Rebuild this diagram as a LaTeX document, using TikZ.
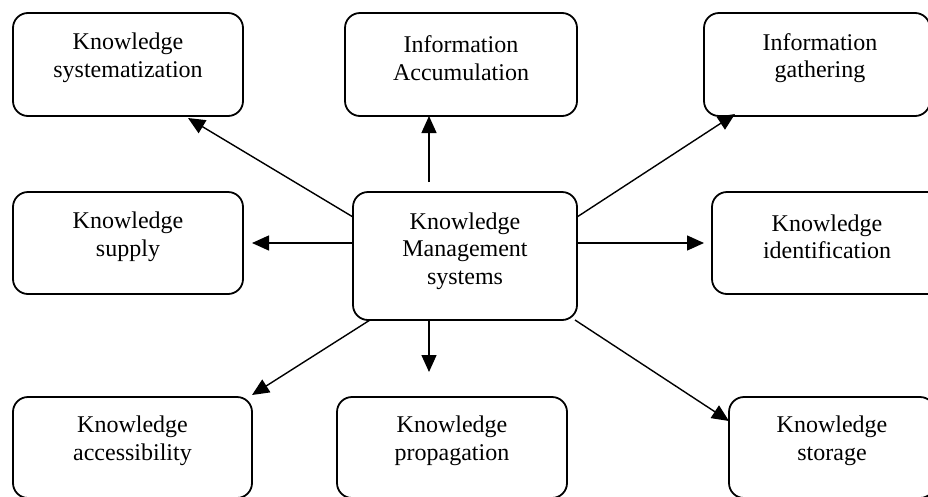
\documentclass[tikz,border=0pt]{standalone}
\usepackage{fontspec}
\setmainfont{Liberation Serif}
\usetikzlibrary{arrows.meta}
\begin{document}
\begin{tikzpicture}[x=1pt,y=-1pt,
  box/.style={draw, line width=1.8pt, rounded corners=15pt, inner sep=0pt, outer sep=0pt},
  lbl/.style={inner sep=0pt, align=center, font=\fontsize{24}{27.5}\selectfont},
  conn/.style={line width=1.4pt, -{Triangle[length=17pt,width=15pt]}}]
\useasboundingbox (0,0) rectangle (928,496);
% boxes
\node[box, minimum width=230pt, minimum height=103pt] (sys)   at (128,64.5) {};
\node[box, minimum width=232pt, minimum height=103pt] (acc)   at (461,64.5) {};
\node[box, minimum width=226pt, minimum height=103pt] (gath)  at (817,64.5) {};
\node[box, minimum width=230pt, minimum height=102pt] (sup)   at (128,243) {};
\node[box, minimum width=224pt, minimum height=128pt] (kms)   at (465,256) {};
\node[box, minimum width=230pt, minimum height=102pt] (ident) at (827,243) {};
\node[box, minimum width=239pt, minimum height=101pt] (accb)  at (132.5,447.5) {};
\node[box, minimum width=230pt, minimum height=101pt] (prop)  at (452,447.5) {};
\node[box, minimum width=206pt, minimum height=101pt] (stor)  at (832,447.5) {};
% labels
\node[lbl] (sys-t)   at ([yshift=-45pt]sys.north)   {Knowledge\\systematization};
\node[lbl] (acc-t)   at ([yshift=-45pt]acc.north)   {Information\\Accumulation};
\node[lbl] (gath-t)  at ([xshift=3pt,yshift=-45pt]gath.north)  {Information\\gathering};
\node[lbl] (sup-t)   at ([yshift=-45pt]sup.north)   {Knowledge\\supply};
\node[lbl] (kms-t)   at ([yshift=-59pt]kms.north) {Knowledge\\Management\\systems};
\node[lbl] (ident-t) at ([yshift=-45pt]ident.north) {Knowledge\\identification};
\node[lbl] (accb-t)  at ([yshift=-44pt]accb.north)  {Knowledge\\accessibility};
\node[lbl] (prop-t)  at ([yshift=-44pt]prop.north)  {Knowledge\\propagation};
\node[lbl] (stor-t)  at ([yshift=-44pt]stor.north)  {Knowledge\\storage};
% connectors
\draw[conn] ([yshift=39pt]kms.west) -- ([xshift=60pt,yshift=-2pt]sys.south);
\draw[conn] ([xshift=-36pt,yshift=10pt]kms.north) -- ([xshift=-32pt]acc.south);
\draw[conn] ([yshift=39pt]kms.east) -- ([xshift=-82pt,yshift=2pt]gath.south);
\draw[conn] ([yshift=13pt]kms.west) -- ([xshift=9pt]sup.east);
\draw[conn] ([yshift=13pt]kms.east) -- ([xshift=-8pt]ident.west);
\draw[conn] ([xshift=-95pt]kms.south) -- ([yshift=2pt]accb.north east);
\draw[conn] ([xshift=-36pt]kms.south) -- ([xshift=-23pt,yshift=25pt]prop.north);
\draw[conn] ([xshift=-2pt]kms.south east) -- ([yshift=26.5pt]stor.west);
\end{tikzpicture}
\end{document}
